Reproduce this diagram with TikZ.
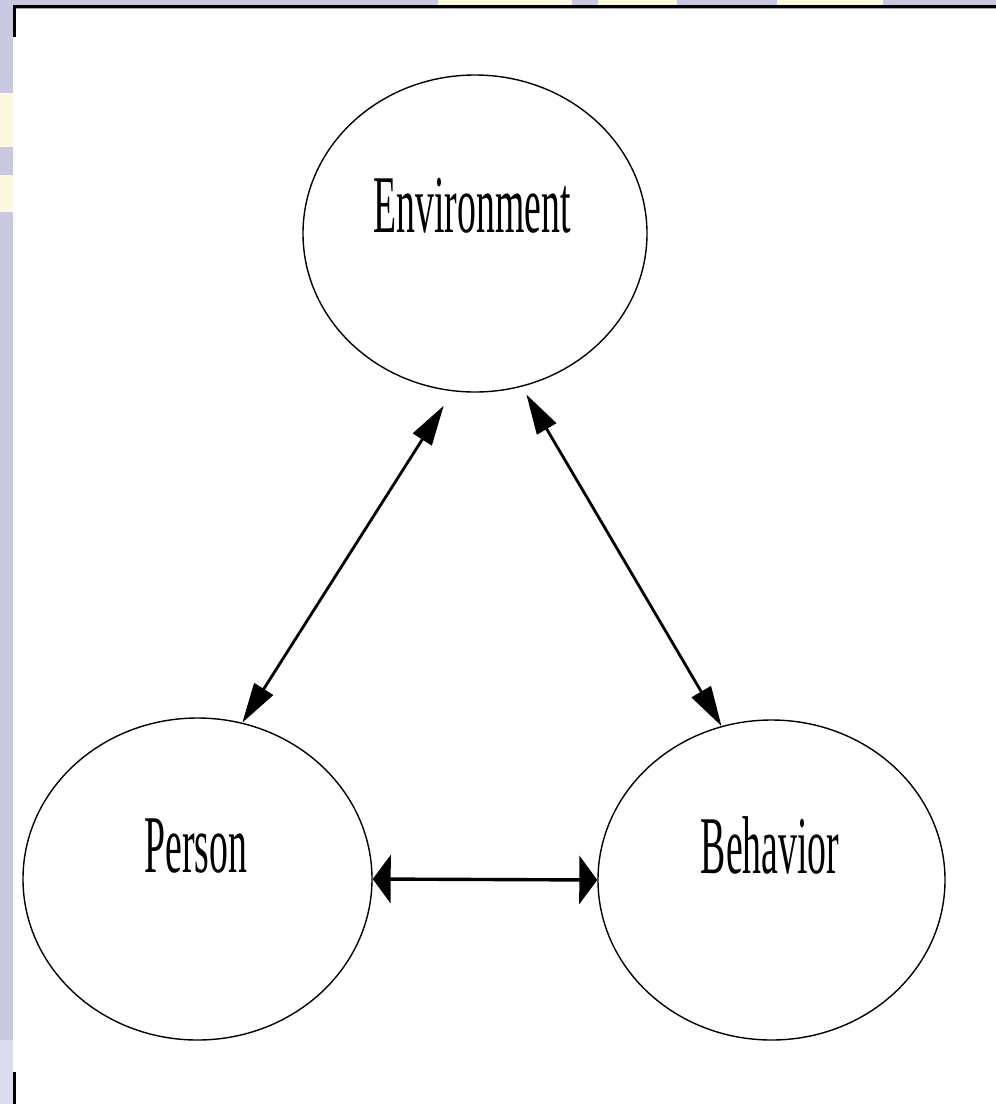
\documentclass[tikz,border=0pt]{standalone}
\usepackage{fontspec}
\usepackage{graphicx}
\setmainfont{Liberation Serif}
\usetikzlibrary{arrows.meta,shapes.geometric}
\definecolor{lav}{RGB}{200,200,225}
\definecolor{lavlight}{RGB}{220,220,240}
\definecolor{cream}{RGB}{255,248,224}
\definecolor{shadow}{RGB}{170,170,170}
\tikzset{
  bubble/.style={ellipse, draw=black, line width=1.4pt, inner sep=0pt, fill=white},
  word/.style={anchor=base, inner sep=0pt, font=\fontsize{82}{90}\selectfont},
  diaglink/.style={line width=2.8pt, {Triangle[length=40pt,width=22pt]}-{Triangle[length=40pt,width=22pt]}},
  flatlink/.style={line width=3.4pt, {Triangle[length=18pt,width=48pt]}-{Triangle[length=18pt,width=48pt]}},
}
\newcommand{\narrow}[1]{\scalebox{0.46}[1]{#1}}
\begin{document}
\begin{tikzpicture}[x=1pt,y=-1pt]
\useasboundingbox (0,0) rectangle (996,1104);
% slide background and frame
\fill[white] (0,0) rectangle (996,1104);
\fill[lav] (0,0) rectangle (13,1104);
\fill[lav] (0,0) rectangle (996,5);
\fill[cream] (0,93) rectangle (13,147);
\fill[cream] (0,175) rectangle (13,212);
\fill[lavlight] (0,1040) rectangle (13,1104);
\fill[cream] (438,0) rectangle (572,5);
\fill[cream] (598,0) rectangle (677,5);
\fill[cream] (777,0) rectangle (883,5);
\fill[black] (13,4.5) rectangle (996,7.5);
\fill[shadow] (15,7.5) rectangle (996,9);
\fill[black] (13,4.5) rectangle (15.5,37);
\fill[black] (13,1072) rectangle (15.5,1104);
% ellipses
\node[bubble, minimum width=344pt, minimum height=317pt] (env) at (475,233.5) {};
\node[bubble, minimum width=349pt, minimum height=322pt] (per) at (197.5,879) {};
\node[bubble, minimum width=347pt, minimum height=320pt] (beh) at (771.5,880) {};
% labels
\node[word] (envt) at (472,232) {\narrow{Environment}};
\node[word] (pert) at (196,872) {\narrow{Person}};
\node[word] (beht) at (770,873) {\narrow{Behavior}};
% connectors
\draw[diaglink, shorten <=17pt] (env.262) -- (per.74);
\draw[diaglink, shorten <=9pt] (env.287) -- (beh.108);
\draw[flatlink] (per.east) -- (beh.west);
\end{tikzpicture}
\end{document}
